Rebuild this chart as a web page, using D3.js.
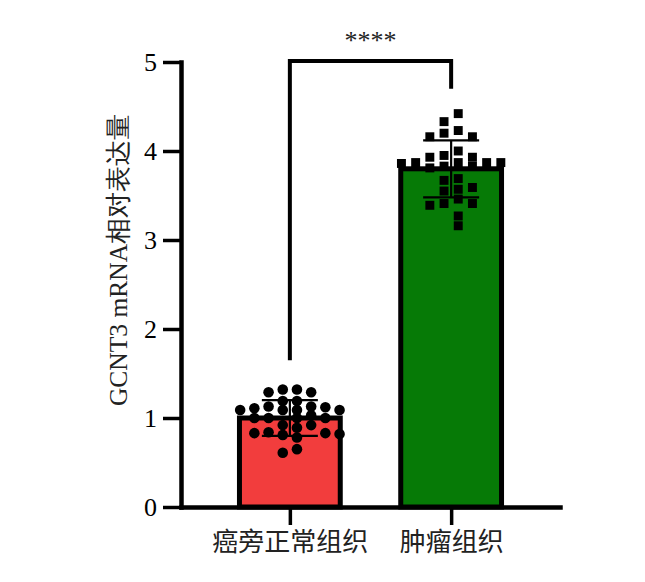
<!DOCTYPE html>
<html>
<head>
<meta charset="utf-8">
<script src="https://cdn.jsdelivr.net/npm/d3@7"></script>
<style>
  html, body { margin: 0; padding: 0; background: #fff; }
  svg { display: block; }
</style>
</head>
<body>
<svg id="chart" width="645" height="582"></svg>
<script>
// ---------------- data ----------------
const categories = ["癌旁正常组织", "肿瘤组织"];
const means = [1.00, 3.80];
const sds = [0.20, 0.32];
const normalValues = [1.32, 1.29, 1.32, 1.29, 1.12, 1.13, 1.13, 1.09, 1.19, 1.09,
                      1.19, 1.09, 1.11, 1.09, 1.03, 1.00, 1.00, 1.00, 1.00, 0.92,
                      0.92, 0.81, 0.83, 0.78, 0.82, 0.83, 0.89, 0.84, 0.61, 0.65];
const tumorValues = [4.42, 4.33, 4.23, 4.16, 4.16, 4.20, 4.00, 3.87, 3.87, 3.93,
                     3.87, 3.95, 3.93, 3.86, 3.87, 3.83, 3.83, 3.81, 3.69, 3.67,
                     3.59, 3.55, 3.57, 3.46, 3.41, 3.39, 3.41, 3.27, 3.16];
const yTicks = [0, 1, 2, 3, 4, 5];
const yTitle = "GCNT3 mRNA相对表达量";
const sigLabel = "****";

// ---------------- styles ----------------
const barColors = ["#F23D3D", "#067A06"];
const serif = "'Liberation Serif', 'DejaVu Serif', serif";
const cjk = "'Noto Sans CJK SC', sans-serif";

const svg = d3.select("#chart");

const y = d3.scaleLinear().domain([0, 5]).range([507, 62]);
const x = d3.scalePoint().domain(categories).range([181, 560]).padding(0.675);
const barW = x.step() * 0.625;

const groups = categories.map((c, i) => ({ c, i, mean: means[i], sd: sds[i],
  values: i === 0 ? normalValues : tumorValues }));

// bars
svg.append("g").selectAll("rect").data(groups).join("rect")
  .attr("x", d => x(d.c) - barW / 2)
  .attr("y", d => y(d.mean))
  .attr("width", barW)
  .attr("height", d => y(0) - y(d.mean))
  .attr("fill", d => barColors[d.i])
  .attr("stroke", "#000")
  .attr("stroke-width", 5);

// column (beeswarm-like) layout, max 8 columns
const colStep = 14.2, minSep = 9;
function layout(values) {
  const sorted = values.map((v, k) => ({ v, k })).sort((a, b) => b.v - a.v);
  const cols = {};
  const candidates = [];
  for (let j = 0; j < 4; j++) { candidates.push(-(j + 0.5)); candidates.push(j + 0.5); }
  candidates.sort((a, b) => Math.abs(a) - Math.abs(b) || b - a);
  sorted.forEach(p => {
    const py = y(p.v);
    let best = null, bestGap = -1;
    for (const c of candidates) {
      const arr = cols[c] || (cols[c] = []);
      const gap = arr.length ? d3.min(arr, q => Math.abs(q - py)) : Infinity;
      if (gap >= minSep) { best = c; break; }
      if (gap > bestGap) { bestGap = gap; best = c; }
    }
    cols[best].push(py);
    p.off = best;
  });
  return sorted;
}

groups.forEach(g => {
  const pts = layout(g.values);
  const sym = d3.symbol().type(g.i === 0 ? d3.symbolCircle : d3.symbolSquare)
    .size(g.i === 0 ? 88 : 80);
  svg.append("g").selectAll("path").data(pts).join("path")
    .attr("d", sym)
    .attr("transform", p => `translate(${x(g.c) + p.off * colStep},${y(p.v)})`)
    .attr("fill", "#000");
});

// error bars
const capW = 28;
const eb = svg.append("g").attr("stroke", "#000").attr("stroke-width", 2.2);
groups.forEach(g => {
  const cx = x(g.c);
  eb.append("line").attr("x1", cx).attr("x2", cx)
    .attr("y1", y(g.mean + g.sd)).attr("y2", y(g.mean - g.sd));
  [g.mean + g.sd, g.mean - g.sd].forEach(v => {
    eb.append("line").attr("x1", cx - capW).attr("x2", cx + capW)
      .attr("y1", y(v)).attr("y2", y(v));
  });
});

// y axis
const yAxis = svg.append("g").attr("transform", "translate(181,0)")
  .call(d3.axisLeft(y).tickValues(yTicks).tickFormat(d3.format("d"))
    .tickSize(18).tickSizeOuter(0).tickPadding(6));
yAxis.select(".domain").attr("stroke-width", 4.5).attr("stroke-linecap", "square");
yAxis.selectAll(".tick line").attr("stroke-width", 3.5);
yAxis.selectAll("text").attr("font-family", serif).attr("font-size", 26).attr("fill", "#000");

// x axis
const xAxis = svg.append("g").attr("transform", "translate(0,507)")
  .call(d3.axisBottom(x).tickSize(18).tickSizeOuter(0).tickPadding(6));
xAxis.select(".domain").attr("stroke-width", 4.5).attr("stroke-linecap", "square");
xAxis.selectAll(".tick line").attr("stroke-width", 3.5);
xAxis.selectAll("text").attr("font-family", cjk).attr("font-size", 26)
  .attr("fill", "#222").attr("dy", "0.75em");

// y title
svg.append("text")
  .attr("transform", "translate(127,260) rotate(-90)")
  .attr("text-anchor", "middle")
  .attr("font-family", serif)
  .attr("font-size", 25.5)
  .attr("fill", "#222")
  .text(yTitle);

// significance bracket
const bracketY = 61;
const x1 = x(categories[0]), x2 = x(categories[1]);
svg.append("path")
  .attr("d", `M${x1},${y(1.65)}V${bracketY}H${x2}V${y(4.7)}`)
  .attr("fill", "none").attr("stroke", "#000").attr("stroke-width", 4);
svg.append("text")
  .attr("x", (x1 + x2) / 2).attr("y", 49)
  .attr("text-anchor", "middle")
  .attr("font-family", serif).attr("font-size", 26).attr("fill", "#222")
  .text(sigLabel);
</script>
</body>
</html>
